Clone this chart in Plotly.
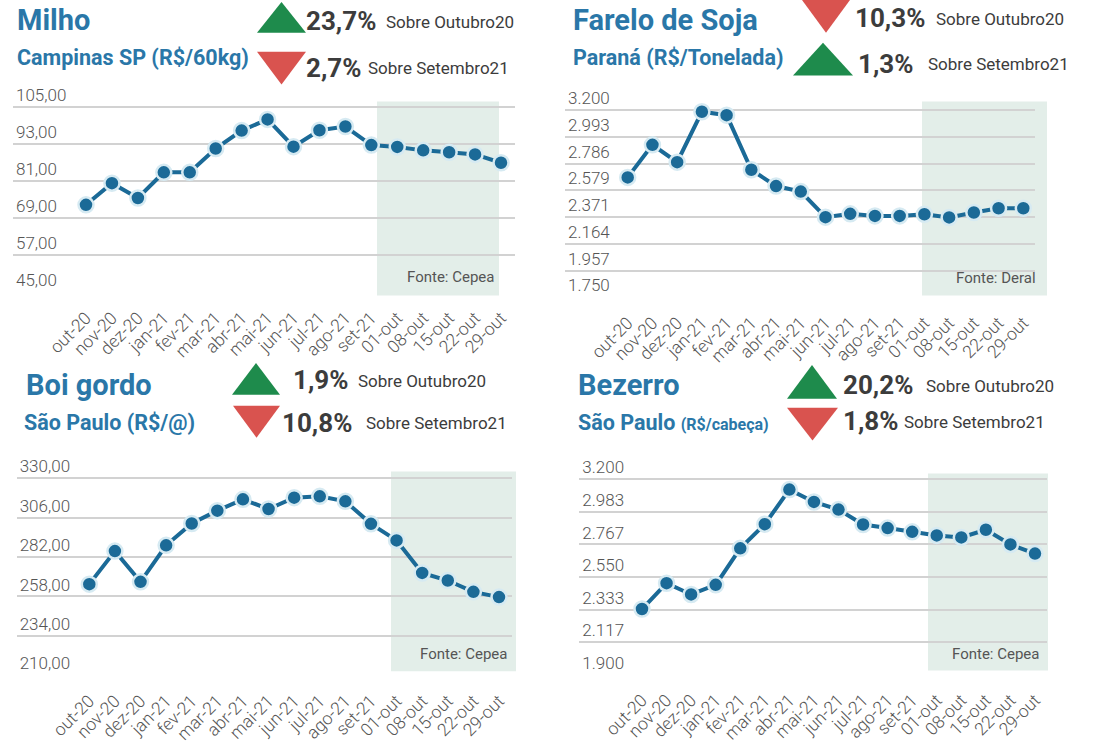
import plotly.graph_objects as go

W, H = 1102, 744

# ---------------- DATA ----------------
categories = ["out-20", "nov-20", "dez-20", "jan-21", "fev-21", "mar-21", "abr-21", "mai-21",
              "jun-21", "jul-21", "ago-21", "set-21", "01-out", "08-out", "15-out", "22-out", "29-out"]

milho_values = [73.3, 80.3, 75.5, 83.8, 83.8, 91.5, 97.3, 100.9, 92.1, 97.4, 98.6, 92.6,
                92.0, 90.9, 90.3, 89.6, 86.9]
farelo_values = [2679, 2931, 2797, 3187, 3161, 2738, 2612, 2569, 2371, 2397, 2381, 2381,
                 2394, 2369, 2407, 2440, 2440]
boi_values = [265.5, 285.6, 266.9, 289.1, 302.4, 310.2, 317.1, 311.2, 318.1, 318.9, 315.9, 302.2,
              292.1, 272.3, 267.7, 260.8, 257.6]
bezerro_values = [2337, 2509, 2434, 2498, 2741, 2902, 3132, 3050, 2999, 2900, 2876, 2851,
                  2827, 2814, 2865, 2767, 2706]

milho_ticks = [45, 57, 69, 81, 93, 105]
milho_ticklabels = ["45,00", "57,00", "69,00", "81,00", "93,00", "105,00"]
farelo_ticks = [1750, 1957.14, 2164.29, 2371.43, 2578.57, 2785.71, 2992.86, 3200]
farelo_ticklabels = ["1.750", "1.957", "2.164", "2.371", "2.579", "2.786", "2.993", "3.200"]
boi_ticks = [210, 234, 258, 282, 306, 330]
boi_ticklabels = ["210,00", "234,00", "258,00", "282,00", "306,00", "330,00"]
bezerro_ticks = [1900, 2116.67, 2333.33, 2550, 2766.67, 2983.33, 3200]
bezerro_ticklabels = ["1.900", "2.117", "2.333", "2.550", "2.767", "2.983", "3.200"]

titles = ["Milho", "Farelo de Soja", "Boi gordo", "Bezerro"]
subtitles = ["Campinas SP (R$/60kg)", "Paraná (R$/Tonelada)", "São Paulo (R$/@)",
             "São Paulo <span style='font-size:16px'>(R$/cabeça)</span>"]
pct_outubro = ["23,7%", "10,3%", "1,9%", "20,2%"]
pct_setembro = ["2,7%", "1,3%", "10,8%", "1,8%"]
dir_outubro = ["up", "down", "up", "up"]
dir_setembro = ["down", "up", "down", "down"]
sources = ["Fonte: Cepea", "Fonte: Deral", "Fonte: Cepea", "Fonte: Cepea"]

# ---------------- STYLE / LAYOUT GEOMETRY (pixels) ----------------
LINE = "#1b6a97"
RING = "#d6eaf2"
GRID = "#d2d2d2"
SHADE = "#e3eee9"
BLUE = "#2a77a8"
GREEN = "#1e8b4c"
RED = "#d9534f"
DARK = "#3c3c3c"
TICKC = "#555555"
TOP_PAD = 26  # px of room above the highest gridline for its label


def xp(px):
    return px / W


def yp(py):
    return 1 - py / H


panels = [
    dict(vals=milho_values, ticks=milho_ticks, tl=milho_ticklabels,
         gx=(13, 515), gy=(107.3, 294), pts=(86, 501),
         shade=(377, 499, 102, 297), src=(495, 278),
         title=(16, 20), sub=(16, 58),
         tri1=(257, 306, 2, 33), tri2=(257, 306, 52, 85),
         p1=(305, 21), s1=(385, 22), p2=(305, 68), s2=(367, 68)),
    dict(vals=farelo_values, ticks=farelo_ticks, tl=farelo_ticklabels,
         gx=(565, 1035), gy=(110.7, 299), pts=(627.7, 1023.3),
         shade=(922, 1047, 102, 297), src=(1037, 279),
         title=(572, 20), sub=(572, 58),
         tri1=(802, 850, 0, 33), tri2=(793, 853, 43, 76),
         p1=(854, 18), s1=(935, 19), p2=(857, 64), s2=(927, 64)),
    dict(vals=boi_values, ticks=boi_ticks, tl=boi_ticklabels,
         gx=(16.7, 511.7), gy=(480.7, 679), pts=(89.3, 499),
         shade=(391, 516, 474, 675), src=(508, 658),
         title=(25, 387), sub=(23, 425),
         tri1=(232, 280, 365, 397), tri2=(233, 280, 408, 440),
         p1=(292, 382), s1=(357, 383), p2=(281, 425), s2=(365, 425)),
    dict(vals=bezerro_values, ticks=bezerro_ticks, tl=bezerro_ticklabels,
         gx=(579.3, 1046.7), gy=(482, 678.3), pts=(642, 1035),
         shade=(928, 1048, 476, 674), src=(1040, 658),
         title=(577, 387), sub=(577, 425),
         tri1=(787, 837, 367, 401), tri2=(787, 838, 410, 443),
         p1=(842, 387), s1=(925, 388), p2=(842, 423), s2=(903, 424)),
]

fig = go.Figure()
shapes = []
annotations = []
n = len(categories)


def tri_path(box, direction):
    x0, x1, y0, y1 = box
    xm = (x0 + x1) / 2
    if direction == "up":
        pts = [(x0, y1), (x1, y1), (xm, y0)]
    else:
        pts = [(x0, y0), (x1, y0), (xm, y1)]
    return "M " + " L ".join(f"{xp(a):.5f},{yp(b):.5f}" for a, b in pts) + " Z"


def ann(text, pos, size, color, bold=False, xanchor="left"):
    annotations.append(dict(
        text=text, x=xp(pos[0]), y=yp(pos[1]), xref="paper", yref="paper",
        xanchor=xanchor, yanchor="middle", showarrow=False, borderpad=0,
        font=dict(family="Roboto", size=size, color=color, weight=700 if bold else 400)))


for i, p in enumerate(panels):
    k = "" if i == 0 else str(i + 1)
    xa, ya = "x" + k, "y" + k
    first, last = p["pts"]
    sp = (last - first) / (n - 1)
    xr = [(p["gx"][0] - first) / sp, (p["gx"][1] - first) / sp]

    lo, hi = p["ticks"][0], p["ticks"][-1]
    top_px, bot_px = p["gy"]
    per_px = (hi - lo) / (bot_px - top_px)
    yr = [lo, hi + TOP_PAD * per_px]

    fig.add_trace(go.Scatter(
        x=categories, y=p["vals"], xaxis=xa, yaxis=ya, mode="lines+markers",
        line=dict(color=LINE, width=4),
        marker=dict(size=15, color=LINE, line=dict(color=RING, width=2.5)),
        showlegend=False, cliponaxis=False, hoverinfo="x+y"))

    fig.layout["xaxis" + k] = dict(
        domain=[xp(p["gx"][0]), xp(p["gx"][1])], range=xr, type="category",
        anchor=ya, showgrid=False, zeroline=False, showline=False, ticks="",
        tickangle=-45, tickfont=dict(family="Roboto", size=17.5, color=TICKC, weight=300),
        ticklabelstandoff=11, fixedrange=True)
    fig.layout["yaxis" + k] = dict(
        domain=[yp(bot_px), yp(top_px - TOP_PAD)],
        range=yr, anchor=xa,
        tickvals=p["ticks"], ticktext=p["tl"], ticklabelposition="inside top",
        showgrid=True, gridcolor=GRID, gridwidth=2, zeroline=False, showline=False,
        ticks="", tickfont=dict(family="Roboto", size=17, color=TICKC, weight=300),
        fixedrange=True)

    sx0, sx1, sy0, sy1 = p["shade"]
    shapes.append(dict(type="rect", xref="paper", yref="paper", x0=xp(sx0), x1=xp(sx1),
                       y0=yp(sy1), y1=yp(sy0), fillcolor=SHADE, line=dict(width=0),
                       layer="below"))
    for box, d in ((p["tri1"], dir_outubro[i]), (p["tri2"], dir_setembro[i])):
        shapes.append(dict(type="path", xref="paper", yref="paper", path=tri_path(box, d),
                           fillcolor=GREEN if d == "up" else RED, line=dict(width=0)))

    ann(titles[i], p["title"], 29, BLUE, bold=True)
    ann(subtitles[i], p["sub"], 21.5, BLUE, bold=True)
    ann(pct_outubro[i], p["p1"], 26, DARK, bold=True)
    ann("Sobre Outubro20", p["s1"], 17, DARK)
    ann(pct_setembro[i], p["p2"], 26, DARK, bold=True)
    ann("Sobre Setembro21", p["s2"], 17, DARK)
    ann(sources[i], p["src"], 15, TICKC, xanchor="right")

fig.update_layout(
    width=W, height=H, margin=dict(l=0, r=0, t=0, b=0),
    paper_bgcolor="white", plot_bgcolor="rgba(0,0,0,0)",
    shapes=shapes, annotations=annotations, showlegend=False,
    font=dict(family="Roboto"))

fig.write_html("out.html", config={"displayModeBar": False},
               post_script="document.body.style.margin='0px';")
